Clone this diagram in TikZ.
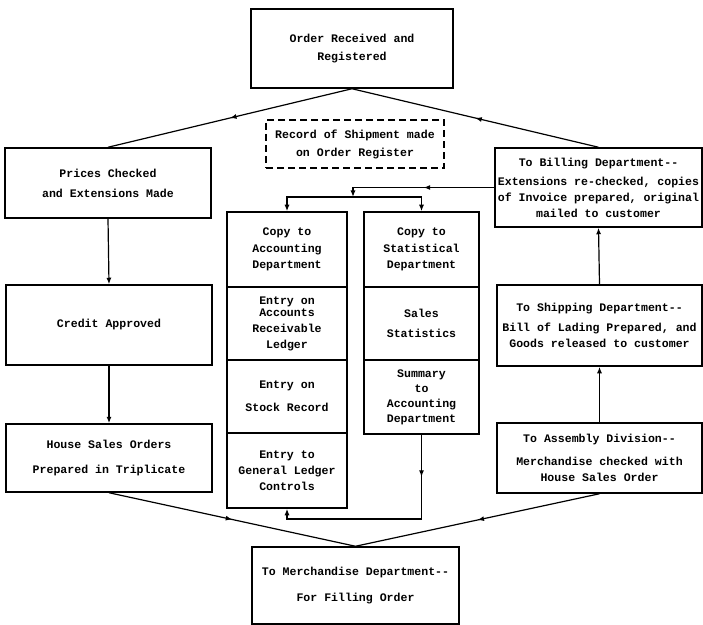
\documentclass[tikz,border=0pt]{standalone}
\usepackage{fontspec}
\setmonofont{Liberation Mono}
\usetikzlibrary{arrows.meta,decorations.markings}
\tikzset{
  box/.style={draw, line width=1.5bp, align=center, inner sep=1bp, anchor=center,
    font=\ttfamily\bfseries\fontsize{11.6}{16}\selectfont},
  dbox/.style={box, dash pattern=on 7bp off 4bp},
  conn/.style={line width=1.2bp},
  tip/.style={-{Latex[length=6.5bp,width=5bp]}},
  midarrow/.style={postaction={decorate}, decoration={markings,
    mark=at position 0.5 with {\arrow{Latex[length=6.5bp,width=5bp]}}}},
}
\begin{document}
\begin{tikzpicture}[x=1bp,y=-1bp]
\fill[white] (0,0) rectangle (703,625);
\useasboundingbox (0,0) rectangle (703,625);

\node[box, minimum width=202bp, minimum height=79bp] (top) at (352,48.5) {Order Received and\\[2bp]Registered};
\node[dbox, minimum width=178bp, minimum height=48bp] (rec) at (355,144) {Record of Shipment made\\[2bp]on Order Register};
\node[box, minimum width=206bp, minimum height=70bp] (prices) at (108,183) {Prices Checked\\[4bp]and Extensions Made};
\node[box, minimum width=206bp, minimum height=80bp] (credit) at (109,325) {Credit Approved};
\node[box, minimum width=206bp, minimum height=68bp] (house) at (109,458) {House Sales Orders\\[10bp]Prepared in Triplicate};
\node[box, minimum width=207bp, minimum height=79bp] (bill) at (598.5,187.5) {To Billing Department-{}-\\[3bp]Extensions re-checked, copies\\of Invoice prepared, original\\mailed to customer};
\node[box, minimum width=205bp, minimum height=81bp] (ship) at (599.5,325.5) {To Shipping Department-{}-\\[4bp]Bill of Lading Prepared, and\\Goods released to customer};
\node[box, minimum width=205bp, minimum height=70bp] (assem) at (599.5,458) {To Assembly Division-{}-\\[7bp]Merchandise checked with\\House Sales Order};
\node[box, minimum width=207bp, minimum height=77bp] (merch) at (355.5,585.5) {To Merchandise Department-{}-\\[10bp]For Filling Order};

\node[box, minimum width=120bp, minimum height=75bp] (acc1) at (287,249.5) {Copy to\\[1bp]Accounting\\Department};
\node[box, minimum width=120bp, minimum height=73bp] (acc2) at (287,323.5) {Entry on\\[-4bp]Accounts\\Receivable\\Ledger};
\node[box, minimum width=120bp, minimum height=73bp] (acc3) at (287,396.5) {Entry on\\[7bp]Stock Record};
\node[box, minimum width=120bp, minimum height=75bp] (acc4) at (287,470.5) {Entry to\\General Ledger\\Controls};
\node[box, minimum width=115bp, minimum height=75bp] (stat1) at (421.5,249.5) {Copy to\\[1bp]Statistical\\Department};
\node[box, minimum width=115bp, minimum height=73bp] (stat2) at (421.5,323.5) {Sales\\[4bp]Statistics};
\node[box, minimum width=115bp, minimum height=74bp] (stat3) at (421.5,397) {Summary\\[-1bp]to\\[-1bp]Accounting\\[-1bp]Department};

\draw[conn,midarrow] (top.south) -- (prices.north);
\draw[conn,midarrow] (bill.north) -- (top.south);
\draw[conn,tip] (prices.south) -- (credit.north);
\draw[conn,tip] (credit.south) -- (house.north);
\draw[conn,midarrow] (house.south) -- (merch.north);
\draw[conn,midarrow] (assem.south) -- (merch.north);
\draw[conn,tip] (assem.north) -- (ship.south);
\draw[conn,tip] (ship.north) -- (bill.south);

\coordinate (j1) at (353,187.5);
\coordinate (j2) at (353,197);
\draw[conn,midarrow] (bill.west) -- (j1);
\draw[conn,tip] (j1) -- (j2);
\draw[conn,tip] (j2) -| (acc1.north);
\draw[conn,tip] (j2) -| (stat1.north);

\coordinate (k1) at (421.5,519);
\draw[conn,midarrow] (stat3.south) -- (k1);
\draw[conn,tip] (k1) -| (acc4.south);
\end{tikzpicture}
\end{document}
